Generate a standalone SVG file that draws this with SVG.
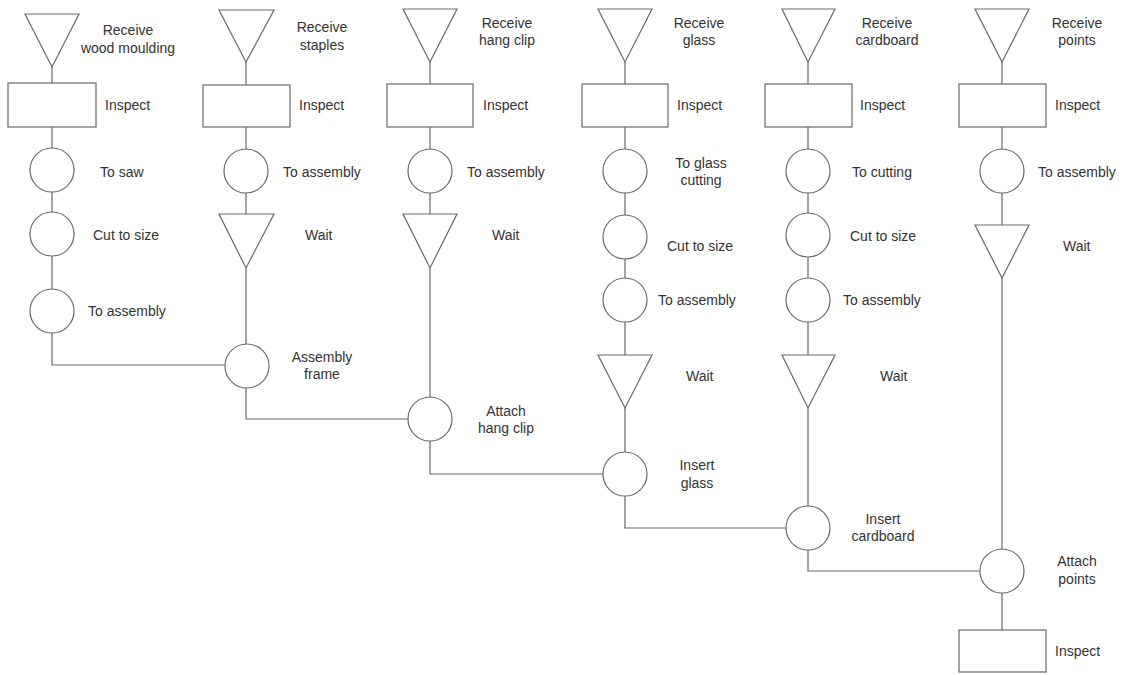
<svg xmlns="http://www.w3.org/2000/svg" width="1125" height="675" viewBox="0 0 1125 675">
  <style>
    .shape { fill: #ffffff; stroke: #6a6a6a; stroke-width: 1.2; }
    .link { fill: none; stroke: #6a6a6a; stroke-width: 1.2; }
    text { font-family: "Liberation Sans", Arial, sans-serif; font-size: 14px; fill: #333333; }
    .c { text-anchor: middle; }
  </style>
  <rect width="1125" height="675" fill="#ffffff"/>

  <!-- connectors -->
  <g id="connectors">
    <!-- column 1: wood moulding -->
    <path class="link" d="M52 67 V83 M52 127 V148 M52 192 V212 M52 256 V289 M52 333 V365 H225"/>
    <!-- column 2: staples -->
    <path class="link" d="M246 62 V85 M246 127 V149 M246 193 V214 M246 268 V344 M246 388 V419 H408"/>
    <!-- column 3: hang clip -->
    <path class="link" d="M430 62 V84 M430 127 V149 M430 193 V214 M430 268 V397 M430 441 V474 H603"/>
    <!-- column 4: glass -->
    <path class="link" d="M625 62 V84 M625 127 V149 M625 193 V215 M625 259 V278 M625 322 V355 M625 408 V452 M625 496 V528 H786"/>
    <!-- column 5: cardboard -->
    <path class="link" d="M808 62 V84 M808 127 V149 M808 193 V213 M808 257 V278 M808 322 V355 M808 408 V506 M808 550 V571 H980"/>
    <!-- column 6: points -->
    <path class="link" d="M1002 62 V84 M1002 127 V149 M1002 193 V225 M1002 278 V549 M1002 593 V630"/>
  </g>

  <!-- column 1 -->
  <g id="recv-wood"><polygon class="shape" points="25,14 79,14 52,67"/><text class="c" x="128" y="35">Receive</text><text class="c" x="128" y="53">wood moulding</text></g>
  <g id="insp-wood"><rect class="shape" x="8" y="83" width="88" height="44"/><text x="105" y="110">Inspect</text></g>
  <g id="to-saw"><circle class="shape" cx="52" cy="170" r="22"/><text x="100" y="177">To saw</text></g>
  <g id="cut-wood"><circle class="shape" cx="52" cy="234" r="22"/><text x="93" y="240">Cut to size</text></g>
  <g id="move-wood"><circle class="shape" cx="52" cy="311" r="22"/><text x="88" y="316">To assembly</text></g>

  <!-- column 2 -->
  <g id="recv-staples"><polygon class="shape" points="219,10 274,10 246,62"/><text class="c" x="322" y="32">Receive</text><text class="c" x="322" y="50">staples</text></g>
  <g id="insp-staples"><rect class="shape" x="203" y="85" width="87" height="42"/><text x="299" y="110">Inspect</text></g>
  <g id="move-staples"><circle class="shape" cx="246" cy="171" r="22"/><text x="283" y="177">To assembly</text></g>
  <g id="wait-staples"><polygon class="shape" points="219,214 274,214 246,268"/><text x="305" y="240">Wait</text></g>
  <g id="assemble-frame"><circle class="shape" cx="247" cy="366" r="22"/><text class="c" x="322" y="362">Assembly</text><text class="c" x="322" y="379">frame</text></g>

  <!-- column 3 -->
  <g id="recv-clip"><polygon class="shape" points="403,9 457,9 430,62"/><text class="c" x="507" y="28">Receive</text><text class="c" x="507" y="45">hang clip</text></g>
  <g id="insp-clip"><rect class="shape" x="387" y="84" width="86" height="43"/><text x="483" y="110">Inspect</text></g>
  <g id="move-clip"><circle class="shape" cx="430" cy="171" r="22"/><text x="467" y="177">To assembly</text></g>
  <g id="wait-clip"><polygon class="shape" points="403,214 457,214 430,268"/><text x="492" y="240">Wait</text></g>
  <g id="attach-clip"><circle class="shape" cx="430" cy="419" r="22"/><text class="c" x="506" y="416">Attach</text><text class="c" x="506" y="433">hang clip</text></g>

  <!-- column 4 -->
  <g id="recv-glass"><polygon class="shape" points="598,9 652,9 625,62"/><text class="c" x="699" y="28">Receive</text><text class="c" x="699" y="45">glass</text></g>
  <g id="insp-glass"><rect class="shape" x="582" y="84" width="86" height="43"/><text x="677" y="110">Inspect</text></g>
  <g id="move-glass-cut"><circle class="shape" cx="625" cy="171" r="22"/><text class="c" x="701" y="168">To glass</text><text class="c" x="701" y="185">cutting</text></g>
  <g id="cut-glass"><circle class="shape" cx="625" cy="237" r="22"/><text x="667" y="251">Cut to size</text></g>
  <g id="move-glass"><circle class="shape" cx="625" cy="300" r="22"/><text x="658" y="305">To assembly</text></g>
  <g id="wait-glass"><polygon class="shape" points="598,355 652,355 625,408"/><text x="686" y="381">Wait</text></g>
  <g id="insert-glass"><circle class="shape" cx="625" cy="474" r="22"/><text class="c" x="697" y="470">Insert</text><text class="c" x="697" y="488">glass</text></g>

  <!-- column 5 -->
  <g id="recv-card"><polygon class="shape" points="782,9 835,9 808,62"/><text class="c" x="887" y="28">Receive</text><text class="c" x="887" y="45">cardboard</text></g>
  <g id="insp-card"><rect class="shape" x="765" y="84" width="87" height="43"/><text x="860" y="110">Inspect</text></g>
  <g id="move-card-cut"><circle class="shape" cx="808" cy="171" r="22"/><text x="852" y="177">To cutting</text></g>
  <g id="cut-card"><circle class="shape" cx="808" cy="235" r="22"/><text x="850" y="241">Cut to size</text></g>
  <g id="move-card"><circle class="shape" cx="808" cy="300" r="22"/><text x="843" y="305">To assembly</text></g>
  <g id="wait-card"><polygon class="shape" points="782,355 835,355 808,408"/><text x="880" y="381">Wait</text></g>
  <g id="insert-card"><circle class="shape" cx="808" cy="528" r="22"/><text class="c" x="883" y="524">Insert</text><text class="c" x="883" y="541">cardboard</text></g>

  <!-- column 6 -->
  <g id="recv-points"><polygon class="shape" points="975,9 1029,9 1002,62"/><text class="c" x="1077" y="28">Receive</text><text class="c" x="1077" y="45">points</text></g>
  <g id="insp-points"><rect class="shape" x="959" y="84" width="87" height="43"/><text x="1055" y="110">Inspect</text></g>
  <g id="move-points"><circle class="shape" cx="1002" cy="171" r="22"/><text x="1038" y="177">To assembly</text></g>
  <g id="wait-points"><polygon class="shape" points="975,225 1029,225 1002,278"/><text x="1063" y="251">Wait</text></g>
  <g id="attach-points"><circle class="shape" cx="1002" cy="571" r="22"/><text class="c" x="1077" y="566">Attach</text><text class="c" x="1077" y="584">points</text></g>
  <g id="final-inspect"><rect class="shape" x="959" y="630" width="87" height="42"/><text x="1055" y="656">Inspect</text></g>
</svg>
